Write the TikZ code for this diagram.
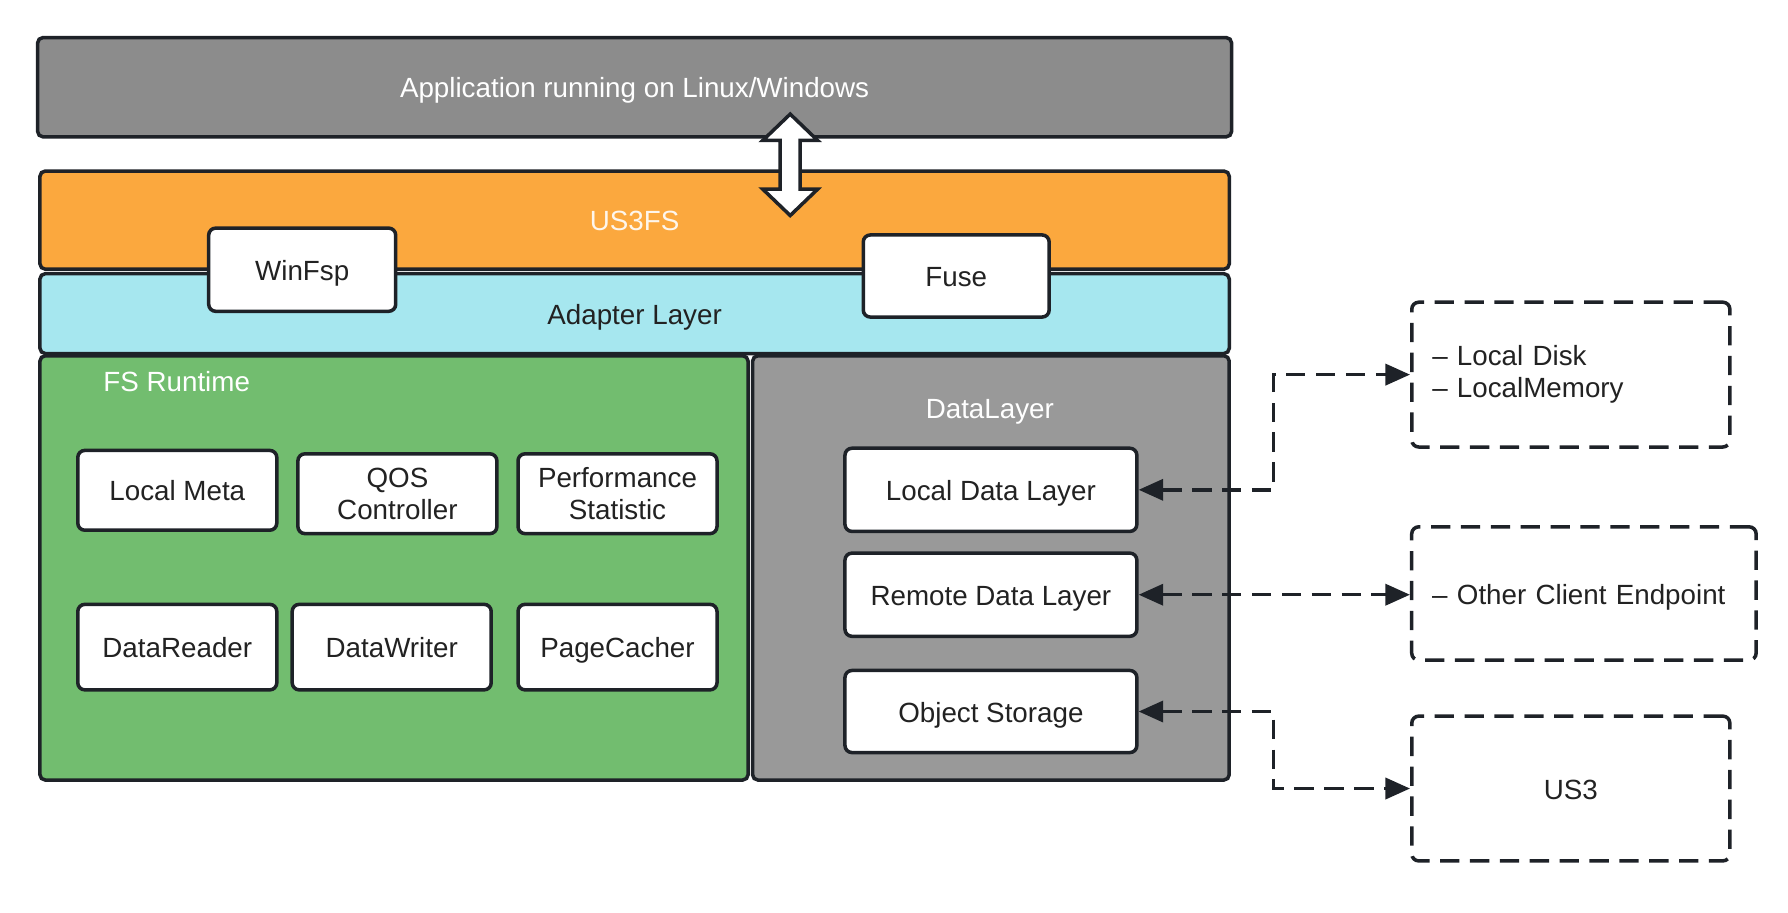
\documentclass[tikz,border=0pt]{standalone}
\usepackage{fontspec}
\setmainfont{Liberation Sans}
\usetikzlibrary{arrows.meta}
\definecolor{edge}{HTML}{1E2228}
\definecolor{appgray}{HTML}{8C8C8C}
\definecolor{dlgray}{HTML}{999999}
\definecolor{fsorange}{HTML}{FBA83E}
\definecolor{adcyan}{HTML}{A6E7EF}
\definecolor{rtgreen}{HTML}{72BD6F}
\definecolor{ink}{HTML}{222222}
\begin{document}
\begin{tikzpicture}[
  font=\fontsize{7.9}{9.2}\selectfont,
  line/.style={text height=7pt, text depth=1pt},
  layer/.style={draw=edge, line width=1pt, rounded corners=1.5pt, inner sep=0pt, line},
  part/.style={draw=edge, line width=1pt, rounded corners=2pt, fill=white, text=ink,
    align=center, inner sep=0pt, minimum width=1.99cm},
  ext/.style={draw=edge, line width=1pt, rounded corners=2pt, text=ink,
    dash pattern=on 5.5pt off 3pt, inner ysep=0pt, inner xsep=0.205cm},
  link/.style={draw=edge, line width=1pt, dash pattern=on 5.5pt off 3pt,
    {Triangle[length=7pt,width=6pt]}-{Triangle[length=7pt,width=6pt]}},
  ttl/.style={text=white, line}
]
\useasboundingbox (0,0) rectangle (17.88,-9.12);
\node[layer, fill=appgray, text=white, minimum width=11.939cm, minimum height=0.992cm]
  (app) at (6.346,-0.872) {Application running on Linux/Windows};
\node[layer, fill=fsorange, text=white!90!fsorange, minimum width=11.893cm, minimum height=0.981cm]
  (us3fs) at (6.346,-2.201) {US3FS};
\node[layer, fill=adcyan, text=ink, minimum width=11.893cm, minimum height=0.798cm]
  (adapter) at (6.346,-3.136) {Adapter Layer};
\node[part, line, minimum width=1.870cm, minimum height=0.832cm] (winfsp) at (3.022,-2.697) {WinFsp};
\node[part, line, minimum width=1.859cm, minimum height=0.821cm] (fuse) at (9.562,-2.760) {Fuse};
\node[layer, fill=rtgreen, minimum width=7.081cm, minimum height=4.242cm] (fsrt) at (3.940,-5.679) {};
\node[ttl] (fsrttitle) at (1.767,-3.809) {FS Runtime};
\node[layer, fill=dlgray, minimum width=4.766cm, minimum height=4.242cm] (dl) at (9.909,-5.679) {};
\node[ttl] (dltitle) at (9.898,-4.082) {DataLayer};
\node[part, line, minimum height=0.798cm] (meta) at (1.773,-4.903) {Local Meta};
\node[part, minimum height=0.798cm] (qos) at (3.974,-4.937) {QOS\\Controller};
\node[part, minimum height=0.798cm] (perf) at (6.175,-4.937) {Performance\\Statistic};
\node[part, line, minimum height=0.855cm] (reader) at (1.773,-6.471) {DataReader};
\node[part, line, minimum height=0.855cm] (writer) at (3.917,-6.471) {DataWriter};
\node[part, line, minimum height=0.855cm] (cacher) at (6.175,-6.471) {PageCacher};
\node[part, line, minimum width=2.919cm, minimum height=0.832cm] (ldl) at (9.909,-4.898) {Local Data Layer};
\node[part, line, minimum width=2.919cm, minimum height=0.832cm] (rdl) at (9.909,-5.947) {Remote Data Layer};
\node[part, line, minimum width=2.919cm, minimum height=0.821cm] (obj) at (9.909,-7.115) {Object Storage};
\node[ext, text width=2.771cm, minimum height=1.448cm, align=left]
  (disk) at (15.708,-3.746) {– Local Disk\\– LocalMemory};
\node[ext, line, text width=3.034cm, minimum height=1.334cm, align=left]
  (client) at (15.839,-5.935) {– Other Client Endpoint};
\node[ext, line, minimum width=3.181cm, minimum height=1.448cm] (us3) at (15.708,-7.885) {US3};
\coordinate (bend) at (12.737,0);
\coordinate (io) at (7.902,-1.648);
\draw[link] (ldl.east) -- (ldl.east -| bend) |- (disk.west);
\draw[link] (rdl.east) -- (rdl.east -| client.west);
\draw[link] (obj.east) -- (obj.east -| bend) |- (us3.west);
\draw[draw=edge, line width=1pt, fill=white] (io) ++(0,0.507) -- ++(-0.274,-0.263) -- ++(0.174,0)
  -- ++(0,-0.488) -- ++(-0.174,0) -- ++(0.274,-0.263) -- ++(0.274,0.263) -- ++(-0.174,0)
  -- ++(0,0.488) -- ++(0.174,0) -- cycle;
\end{tikzpicture}
\end{document}
